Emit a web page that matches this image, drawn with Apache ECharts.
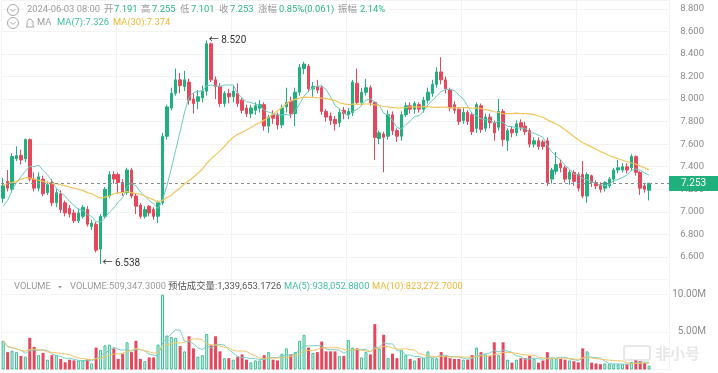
<!DOCTYPE html>
<html><head><meta charset="utf-8">
<script src="https://cdn.jsdelivr.net/npm/echarts@6/dist/echarts.min.js"></script>
<style>html,body{margin:0;padding:0;background:#fff}#c{width:718px;height:373px}</style>
</head><body><div id="c"></div>
<script>
// ---- data (147 candles, last = 2024-06-03 08:00) ----
const opens = [
7.12,7.27,7.20,7.47,7.50,7.47,7.64,7.29,7.21,7.29,
7.17,7.26,7.08,7.16,7.08,7.03,6.99,6.92,6.96,7.02,
6.87,6.89,6.67,6.96,7.14,7.33,7.33,7.26,7.17,7.37,
7.14,7.06,6.96,7.05,7.02,6.96,7.08,7.67,7.92,8.05,
8.17,8.11,8.15,8.00,7.98,8.01,8.07,8.49,8.17,8.11,
7.96,8.05,8.02,8.05,7.99,7.92,7.87,7.90,7.92,7.95,
7.76,7.86,7.86,7.77,7.93,7.98,7.87,8.06,8.27,8.29,
8.09,8.11,8.10,7.89,7.85,7.82,7.79,7.90,7.86,7.88,
8.14,7.97,8.06,8.10,7.97,7.65,7.69,7.67,7.86,7.72,
7.67,7.86,7.94,7.91,7.95,7.91,7.99,8.05,8.13,8.24,
8.17,8.08,7.95,7.91,7.81,7.88,7.86,7.74,7.94,7.74,
7.84,7.79,7.75,7.89,7.63,7.73,7.70,7.79,7.76,7.72,
7.60,7.63,7.62,7.63,7.29,7.36,7.43,7.39,7.29,7.35,
7.33,7.33,7.14,7.32,7.26,7.24,7.21,7.23,7.29,7.37,
7.37,7.40,7.39,7.49,7.35,7.23,7.191];
const closes = [
7.23,7.21,7.49,7.50,7.46,7.64,7.29,7.21,7.31,7.16,
7.24,7.08,7.17,7.02,6.99,6.98,6.92,6.99,7.04,6.89,
6.90,6.66,6.96,7.20,7.33,7.29,7.26,7.17,7.37,7.14,
7.05,6.96,7.02,6.99,6.96,7.08,7.67,7.93,8.05,8.17,
8.12,8.17,7.99,7.96,8.02,8.07,8.49,8.17,8.11,7.96,
8.05,8.02,8.07,7.96,7.90,7.87,7.92,7.94,7.95,7.76,
7.84,7.83,7.77,7.92,7.97,7.87,8.06,8.28,8.31,8.09,
8.11,8.08,7.89,7.84,7.81,7.78,7.88,7.87,7.89,8.15,
7.97,8.06,8.10,7.97,7.66,7.70,7.66,7.86,7.72,7.67,
7.86,7.94,7.91,7.96,7.91,7.99,8.06,8.13,8.24,8.17,
8.09,7.92,7.90,7.80,7.88,7.80,7.71,7.95,7.73,7.84,
7.79,7.70,7.89,7.64,7.72,7.70,7.78,7.75,7.71,7.60,
7.63,7.58,7.58,7.26,7.37,7.42,7.39,7.29,7.35,7.27,
7.21,7.14,7.33,7.26,7.23,7.20,7.26,7.29,7.37,7.39,
7.40,7.37,7.49,7.35,7.21,7.20,7.253];
const lows = [
7.08,7.18,7.17,7.45,7.42,7.44,7.27,7.18,7.18,7.14,
7.15,7.05,7.04,6.99,6.96,6.95,6.90,6.90,6.94,6.87,
6.84,6.64,6.538,6.94,7.12,7.25,7.16,7.14,7.15,7.12,
6.98,6.94,6.94,6.96,6.93,6.90,7.06,7.64,7.90,8.03,
8.05,8.07,7.95,7.87,7.91,7.97,8.03,8.15,8.00,7.93,
7.93,7.96,7.97,7.93,7.87,7.84,7.83,7.86,7.88,7.72,
7.70,7.78,7.73,7.74,7.88,7.83,7.76,8.03,8.22,8.06,
8.02,8.05,7.86,7.80,7.77,7.72,7.75,7.82,7.82,7.85,
7.95,7.94,8.03,7.94,7.46,7.60,7.35,7.64,7.68,7.62,
7.63,7.84,7.87,7.87,7.88,7.88,7.96,8.02,8.10,8.13,
8.05,7.89,7.87,7.77,7.78,7.77,7.68,7.70,7.70,7.71,
7.74,7.63,7.72,7.58,7.54,7.66,7.67,7.72,7.68,7.57,
7.57,7.55,7.55,7.23,7.25,7.33,7.35,7.26,7.24,7.23,
7.18,7.12,7.08,7.22,7.20,7.17,7.18,7.21,7.26,7.34,
7.35,7.34,7.36,7.32,7.15,7.17,7.101];
const highs = [
7.30,7.37,7.52,7.58,7.55,7.65,7.65,7.35,7.35,7.32,
7.27,7.29,7.20,7.19,7.10,7.06,7.02,7.03,7.06,7.05,
6.93,6.91,6.98,7.22,7.36,7.36,7.35,7.29,7.39,7.39,
7.16,7.08,7.05,7.06,7.04,7.10,7.70,7.95,8.10,8.27,
8.23,8.25,8.18,8.05,8.08,8.12,8.52,8.50,8.20,8.14,
8.07,8.09,8.12,8.14,8.01,7.95,7.95,7.97,7.99,7.97,
7.86,7.90,7.88,7.95,8.10,8.02,8.10,8.31,8.33,8.31,
8.15,8.17,8.12,7.91,7.88,7.85,7.91,7.93,7.92,8.17,
8.27,8.10,8.18,8.12,7.98,7.72,7.71,7.90,7.89,7.74,
7.89,7.97,7.97,7.98,7.97,8.02,8.10,8.17,8.28,8.37,
8.20,8.10,7.98,7.93,7.92,7.90,7.88,7.97,7.96,7.87,
7.87,7.81,8.00,7.91,7.74,7.76,7.81,7.82,7.80,7.74,
7.66,7.66,7.64,7.66,7.39,7.53,7.46,7.41,7.37,7.37,
7.35,7.45,7.35,7.33,7.28,7.26,7.27,7.31,7.39,7.46,
7.43,7.43,7.51,7.50,7.36,7.25,7.255];
// volume in millions
const volumes = [
3.8,2.3,2.5,2.3,1.8,1.7,4.2,3.0,1.9,2.2,
1.3,1.9,1.9,1.4,0.95,1.3,1.2,1.2,1.2,1.3,
0.8,2.9,2.6,3.2,3.3,2.8,1.4,2.1,3.6,2.3,
3.8,1.4,1.1,1.6,1.6,3.3,9.9,4.5,4.3,4.2,
3.1,2.4,4.4,2.8,1.7,1.9,4.7,3.2,4.4,2.4,
1.5,1.5,1.3,1.7,2.0,1.3,0.95,1.2,1.2,1.9,
2.3,1.3,1.2,2.1,2.8,2.0,2.3,3.8,4.6,2.9,
2.2,2.3,3.7,2.4,2.4,2.4,1.8,1.8,3.9,2.9,
2.8,1.6,2.3,2.0,6.0,2.8,4.6,1.5,2.1,1.5,
2.6,1.9,1.4,1.2,1.5,1.5,2.4,1.5,1.5,2.3,
1.8,1.5,1.4,1.4,1.3,1.3,1.9,2.9,2.3,2.0,
1.8,3.6,1.9,3.6,1.3,0.9,1.3,1.5,1.5,1.8,
1.4,0.9,1.2,2.3,1.6,1.5,1.4,1.3,1.2,1.1,
0.95,2.8,2.4,0.9,0.8,0.7,0.8,0.75,0.7,0.7,
0.7,0.69,1.0,1.2,1.1,0.88,0.5093473];
// MA values for the first candles (before a full window exists)
const ma7Lead = [7.05,7.10,7.19,7.26,7.31,7.36];
const ma30Lead = [7.24,7.25,7.26,7.27,7.29,7.30,7.30,7.29,7.28,7.27,
7.26,7.25,7.25,7.24,7.23,7.22,7.21,7.20,7.19,7.17,
7.16,7.14,7.12,7.13,7.14,7.16,7.17,7.17,7.18];
const priceTicks = [6.6,6.8,7.0,7.2,7.4,7.6,7.8,8.0,8.2,8.4,8.6,8.8];
const volTicks = [5,10];
const categories = closes.map((_, i) => 'K' + (i + 1));
const lastPrice = 7.253, highMark = 8.520, lowMark = 6.538;

// ---- styling ----
const UP = '#20b07e', DOWN = '#e5485c';
const MA7C = '#6ccbbd', MA30C = '#f1c55a';
const FONT = 'Roboto, "Noto Sans CJK SC", sans-serif';
const HS = 9.4;

function avg(a){return a.reduce((s,v)=>s+v,0)/a.length;}
function ma(arr,n,lead){
  return arr.map((_,i)=> i<n-1 ? (lead? lead[i] : +avg(arr.slice(0,i+1)).toFixed(4)) : +avg(arr.slice(i-n+1,i+1)).toFixed(4));
}
const candleData = opens.map((o,i)=>[o,closes[i],lows[i],highs[i]]);
const ma7 = ma(closes,7,ma7Lead), ma30 = ma(closes,30,ma30Lead);
const vma5 = ma(volumes,5), vma10 = ma(volumes,10);
const volData = volumes.map((v,i)=>{
  const up = closes[i] >= opens[i];
  return {value:v, itemStyle: up ? {color:'#d6f2e8', borderColor:'#3dbd98', borderWidth:1} : {color:DOWN}};
});

const chart = echarts.init(document.getElementById('c'), null, {renderer:'canvas'});

function txt(x,y,text,color,size){
  return {type:'text', x:x, y:y, z:100, style:{text:text, fill:color, fontSize:size||HS, fontFamily:FONT, verticalAlign:'middle', align:'left'}};
}
function circIcon(cx,cy){
  return [
    {type:'circle', shape:{cx:cx, cy:cy, r:5.5}, style:{fill:'none', stroke:'#a8a8a8', lineWidth:1}, z:100},
    {type:'polyline', shape:{points:[[cx-2.5,cy-1],[cx,cy+1.5],[cx+2.5,cy-1]]}, style:{fill:'none', stroke:'#a8a8a8', lineWidth:1}, z:100}
  ];
}
const G = '#9b9b9b', V = '#2bb38a';
const graphics = [].concat(
  circIcon(13,10), circIcon(13,23),
  [
    txt(27,10,'2024-06-03 08:00',G),
    txt(104,10,'开',G), txt(114,10,'7.191',V),
    txt(141,10,'高',G), txt(152,10,'7.255',V),
    txt(180,10,'低',G), txt(191,10,'7.101',V),
    txt(219,10,'收',G), txt(230,10,'7.253',V),
    txt(258,10,'涨幅',G), txt(279,10,'0.85%(0.061)',V),
    txt(338,10,'振幅',G), txt(360,10,'2.14%',V),
    {type:'polyline', z:100, shape:{points:[[26,27],[27,26],[27,22],[28.5,19.5],[30,19],[31.5,19.5],[33,22],[33,26],[34,27],[26,27]]}, style:{fill:'none', stroke:'#a8a8a8', lineWidth:1}},
    txt(37,23,'MA',G),
    txt(57,23,'MA(7):7.326','#3fbfa3'),
    txt(113,23,'MA(30):7.374','#efb734'),
    txt(14,287,'VOLUME',G),
    {type:'polygon', z:100, shape:{points:[[58,286],[62,286],[60,288.5]]}, style:{fill:'#9b9b9b'}},
    txt(70,287,'VOLUME:509,347.3000',G),
    txt(168,287,'预估成交量:1,339,653.1726','#555'),
    txt(284,287,'MA(5):938,052.8800','#3fbfa3'),
    txt(372,287,'MA(10):823,272.7000','#efb734'),
    {type:'text', x:655, y:353, z:1, style:{text:'非小号', fill:'rgba(120,120,120,0.18)', fontSize:15, fontWeight:'bold', fontFamily:'"Noto Sans CJK SC"', verticalAlign:'middle'}},
    {type:'rect', z:1, shape:{x:624, y:346, width:26, height:14, r:2}, style:{fill:'none', stroke:'rgba(120,120,120,0.18)', lineWidth:2}}
  ]
);

const axisCommon = {axisLine:{show:false}, axisTick:{show:false}};
const option = {
  animation:false,
  backgroundColor:'#ffffff',
  grid:[
    {left:1, right:49, top:0, height:279.5},
    {left:1, right:49, top:278.9, bottom:3.5}
  ],
  xAxis:[
    Object.assign({type:'category', data:categories, gridIndex:0, max:150, boundaryGap:true,
      axisLabel:{show:false}, splitLine:{show:true, interval:25, lineStyle:{color:'#f3f3f3'}}}, axisCommon),
    Object.assign({type:'category', data:categories, gridIndex:1, max:150, boundaryGap:true,
      axisLabel:{show:false}, splitLine:{show:true, interval:25, lineStyle:{color:'#f3f3f3'}}}, axisCommon)
  ],
  yAxis:[
    Object.assign({type:'value', gridIndex:0, position:'right', min:6.4, max:8.8777, interval:0.2,
      splitLine:{lineStyle:{color:'#f3f3f3'}},
      axisLabel:{color:'#8c8c8c', fontSize:9.5, fontFamily:FONT, align:'right', margin:35,
        formatter:v=> priceTicks.some(t=>Math.abs(t-v)<1e-6) ? v.toFixed(3) : ''}}, axisCommon),
    Object.assign({type:'value', gridIndex:1, position:'right', min:0, max:12, interval:5,
      splitLine:{lineStyle:{color:'#f5f5f5'}},
      axisLabel:{color:'#8c8c8c', fontSize:10, fontFamily:FONT, align:'right', margin:37,
        formatter:v=> volTicks.indexOf(v)>=0 ? v.toFixed(2)+'M' : ''}}, axisCommon)
  ],
  series:[
    {type:'candlestick', xAxisIndex:0, yAxisIndex:0, data:candleData, barWidth:3, z:2,
      itemStyle:{color:UP, color0:DOWN, borderColor:UP, borderColor0:DOWN, borderWidth:1},
      markPoint:{symbol:'circle', symbolSize:0, animation:false,
        label:{show:true, position:'right', distance:2, color:'#333', fontSize:10, fontFamily:FONT},
        data:[
          {coord:[46, highMark], value:highMark, label:{formatter:'← ' + highMark.toFixed(3)}},
          {coord:[22, lowMark], value:lowMark, label:{formatter:'← ' + lowMark.toFixed(3)}}
        ]},
      markLine:{symbol:['none','none'], silent:true, animation:false,
        lineStyle:{type:[3,3], color:'#8a8a8a', width:1},
        label:{show:true, position:'end', distance:0, formatter:lastPrice.toFixed(3), color:'#fff',
          backgroundColor:'#1fb07d', padding:[2,12], fontSize:10, lineHeight:11, fontFamily:FONT},
        data:[{yAxis:lastPrice}]}
    },
    {type:'line', xAxisIndex:0, yAxisIndex:0, data:ma7, showSymbol:false, z:3,
      lineStyle:{color:MA7C, width:1}, itemStyle:{color:MA7C}},
    {type:'line', xAxisIndex:0, yAxisIndex:0, data:ma30, showSymbol:false, z:3,
      lineStyle:{color:MA30C, width:1.2}, itemStyle:{color:MA30C}},
    {type:'bar', xAxisIndex:1, yAxisIndex:1, data:volData, barWidth:3, z:2,
      markLine:{symbol:['none','none'], silent:true, animation:false,
        lineStyle:{opacity:0},
        label:{show:true, position:'end', distance:0, formatter:(volumes[volumes.length-1]*1000).toFixed(1)+'k',
          color:'#fff', backgroundColor:'#f4a52c', padding:[2,10], fontSize:10, lineHeight:10, fontFamily:FONT},
        data:[{yAxis:volumes[volumes.length-1]}]}
    },
    {type:'line', xAxisIndex:1, yAxisIndex:1, data:vma5, showSymbol:false, z:3,
      lineStyle:{color:'#79cfc4', width:1}},
    {type:'line', xAxisIndex:1, yAxisIndex:1, data:vma10, showSymbol:false, z:3,
      lineStyle:{color:'#f3c462', width:1}}
  ],
  graphic: graphics
};
chart.setOption(option);
</script>
</body></html>
